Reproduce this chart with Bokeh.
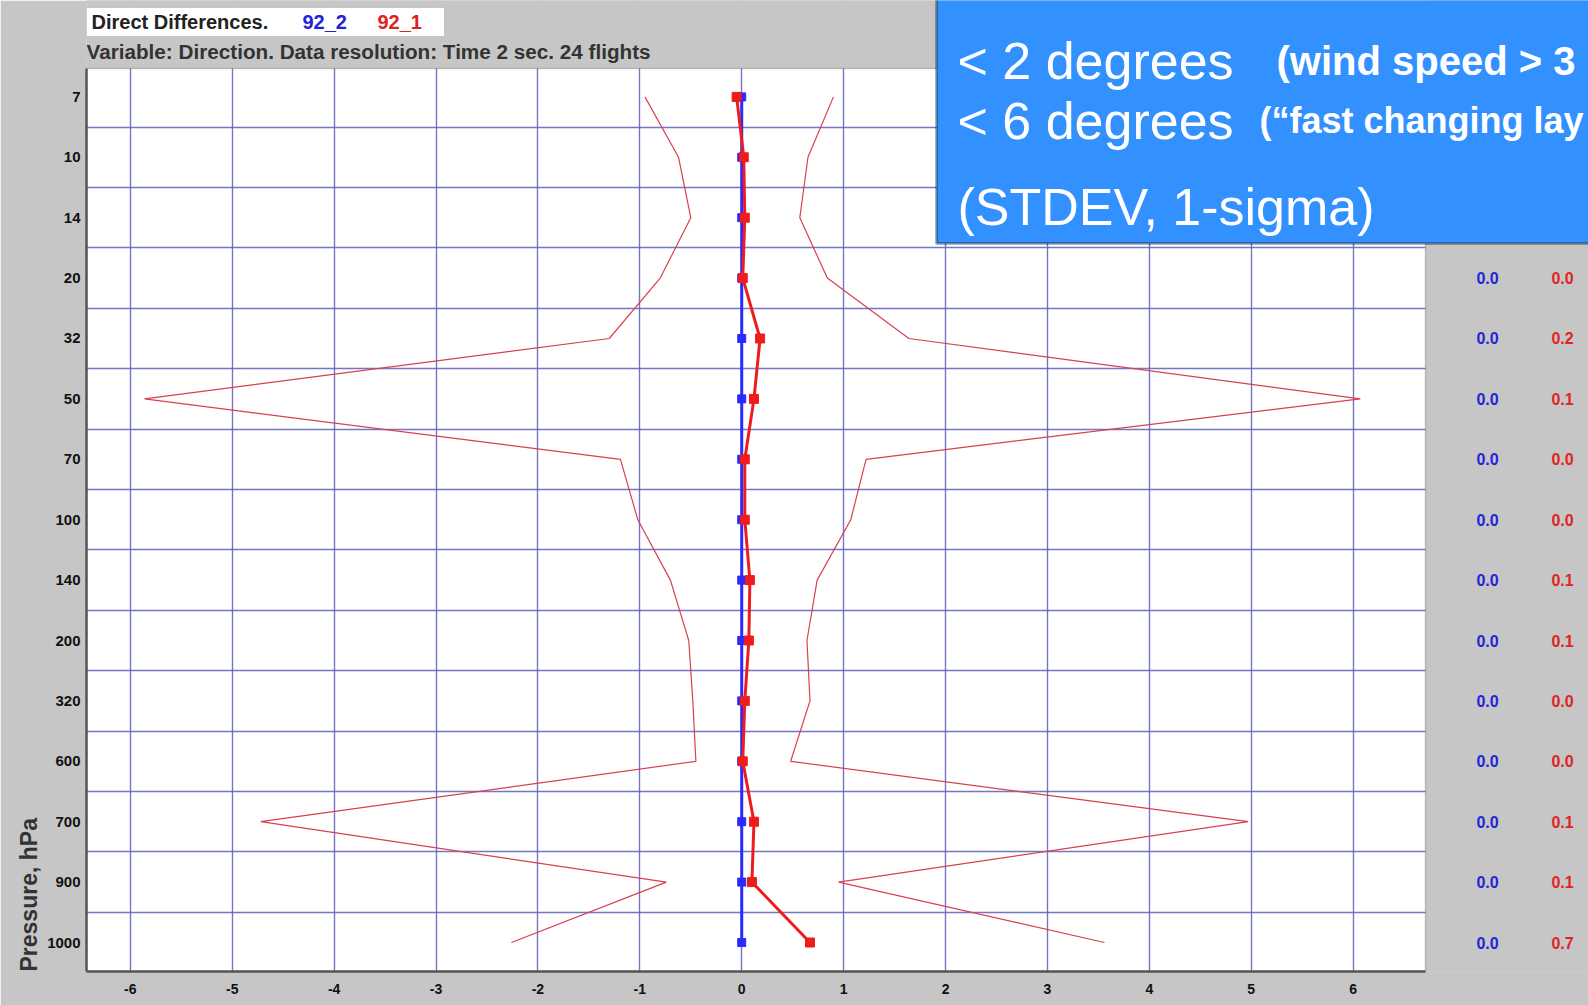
from bokeh.plotting import figure
from bokeh.models import Range1d, FixedTicker, Label, LabelSet, BoxAnnotation, ColumnDataSource, Title
from bokeh.core.properties import value
from bokeh.embed import file_html
from bokeh.resources import INLINE

# ---------------- data ----------------
levels = ["7", "10", "14", "20", "32", "50", "70", "100", "140", "200", "320", "600", "700", "900", "1000"]
level_pos = [0, 1, 2, 3, 4, 5, 6, 7, 8, 9, 10, 11, 12, 13, 14]

mean_92_2 = [0.0, 0.0, 0.0, 0.0, 0.0, 0.0, 0.0, 0.0, 0.0, 0.0, 0.0, 0.0, 0.0, 0.0, 0.0]
mean_92_1 = [-0.05, 0.02, 0.03, 0.01, 0.18, 0.12, 0.03, 0.03, 0.08, 0.07, 0.03, 0.01, 0.12, 0.10, 0.67]
lower_92_1 = [-0.95, -0.62, -0.50, -0.80, -1.30, -5.86, -1.19, -1.02, -0.70, -0.52, -0.48, -0.45, -4.72, -0.74, -2.26]
upper_92_1 = [0.90, 0.65, 0.57, 0.84, 1.64, 6.07, 1.22, 1.07, 0.74, 0.64, 0.67, 0.48, 4.97, 0.95, 3.56]

col_92_2 = ["0.0", "0.0", "0.0", "0.0", "0.0", "0.0", "0.0", "0.0", "0.0", "0.0", "0.0", "0.0", "0.0", "0.0", "0.0"]
col_92_1 = ["0.0", "0.0", "0.0", "0.0", "0.2", "0.1", "0.0", "0.0", "0.1", "0.1", "0.0", "0.0", "0.1", "0.1", "0.7"]

x_ticks = [-6, -5, -4, -3, -2, -1, 0, 1, 2, 3, 4, 5, 6]
x_tick_labels = ["-6", "-5", "-4", "-3", "-2", "-1", "0", "1", "2", "3", "4", "5", "6"]

# ---------------- layout ----------------
W, H = 1588, 1005
PL, PR, PT, PB = 86, 1425, 68, 971          # white plot area (pixels)
XA, XB = -6.43, 6.71                        # x values at PL / PR
YA, YB = -0.47, 14.48                       # level index at PT / PB
KX = (XB - XA) / (PR - PL)
KY = (YB - YA) / (PB - PT)


def sx(px):
    return XA + (px - PL) * KX


def sy(py):
    return YA + (py - PT) * KY


GRAY = "#c6c6c6"
GRID = "#6666c0"
FONT = "Liberation Sans"

# the frame covers the plot area plus the top strip and the right column
p = figure(width=W, height=H, output_backend="svg", toolbar_location=None,
           x_range=Range1d(XA, sx(W)), y_range=Range1d(YB, sy(0)),
           min_border_left=PL, min_border_right=0, min_border_top=0,
           min_border_bottom=H - PB)
p.border_fill_color = GRAY
p.background_fill_color = GRAY
p.outline_line_color = None

# white plot area
p.add_layout(BoxAnnotation(left=XA, right=XB, top=YA, bottom=YB, fill_color="white",
                           fill_alpha=1, line_color=None, level="image"))

# axes
p.xaxis.ticker = FixedTicker(ticks=x_ticks)
p.xaxis.major_label_overrides = {t: s for t, s in zip(x_ticks, x_tick_labels)}
p.xaxis.bounds = (XA, XB)
p.yaxis.ticker = FixedTicker(ticks=level_pos)
p.yaxis.major_label_overrides = {i: lab for i, lab in zip(level_pos, levels)}
p.yaxis.bounds = (YA, YB)
for ax in (p.xaxis[0], p.yaxis[0]):
    ax.axis_line_color = "#555555"
    ax.axis_line_width = 2.5
    ax.major_tick_line_color = None
    ax.minor_tick_line_color = None
    ax.major_label_text_font = FONT
    ax.major_label_text_font_style = "bold"
    ax.major_label_text_font_size = "15px"
    ax.major_label_text_color = "#111111"
p.yaxis.major_label_standoff = 0
p.xaxis.major_label_standoff = 6
p.xaxis.major_label_text_font_size = "14px"

# y axis title, placed low on the left side
p.add_layout(Title(text="Pressure, hPa", align="left", text_font=FONT, text_font_style="bold",
                   text_font_size="23px", text_color="#333333", standoff=6, offset=0), "left")

# grids
p.xgrid.ticker = FixedTicker(ticks=x_ticks)
p.ygrid.ticker = FixedTicker(ticks=[i + 0.5 for i in level_pos[:-1]])
for g in (p.xgrid[0], p.ygrid[0]):
    g.grid_line_color = GRID
    g.grid_line_width = 1.4
    g.grid_line_alpha = 0.9

# gray strips above and right of the plot area (cover the grid lines there)
p.add_layout(BoxAnnotation(left=sx(PL - 5), right=sx(W + 5), top=sy(-5), bottom=sy(PT),
                           fill_color=GRAY, fill_alpha=1, line_color=None, level="glyph"))
p.add_layout(BoxAnnotation(left=sx(PR), right=sx(W + 5), top=sy(-5), bottom=sy(PB + 5),
                           fill_color=GRAY, fill_alpha=1, line_color=None, level="glyph"))
p.add_layout(BoxAnnotation(left=XA, right=XB, top=YA, bottom=YB,
                           fill_alpha=0, line_color="#6a6a6a", line_width=1.5, level="glyph"))

# envelopes
p.line(lower_92_1, level_pos, line_color="#d8404f", line_width=1.2)
p.line(upper_92_1, level_pos, line_color="#d8404f", line_width=1.2)

# mean lines
p.line(mean_92_2, level_pos, line_color="#2a2aff", line_width=3)
p.scatter(mean_92_2, level_pos, marker="square", size=8, fill_color="#2a2aff", line_color="#2a2aff")
p.line(mean_92_1, level_pos, line_color="#ee1c1c", line_width=3)
p.scatter(mean_92_1, level_pos, marker="square", size=9, fill_color="#ee1c1c", line_color="#ee1c1c")

# right column values
src = ColumnDataSource(dict(y=level_pos, b=col_92_2, r=col_92_1))
p.add_layout(LabelSet(x=sx(1487), y="y", text="b", source=src, text_align="center",
                      text_baseline="middle", text_font=value(FONT), text_font_style="bold",
                      text_font_size="16px", text_color="#2424d8"))
p.add_layout(LabelSet(x=sx(1562), y="y", text="r", source=src, text_align="center",
                      text_baseline="middle", text_font=value(FONT), text_font_style="bold",
                      text_font_size="16px", text_color="#e02424"))

# header
p.add_layout(BoxAnnotation(left=sx(86), right=sx(444), top=sy(7), bottom=sy(36),
                           fill_color="white", fill_alpha=1, line_color="#808080", line_width=1))
hdr = [("Direct Differences.", 91, "#222222"), ("92_2", 302, "#2222dd"), ("92_1", 377, "#dd2222")]
for txt, px, col in hdr:
    p.add_layout(Label(x=sx(px), y=sy(21), text=txt, text_baseline="alphabetic",
                       text_font=FONT, text_font_style="bold", text_font_size="20px", text_color=col))
p.add_layout(Label(x=sx(86), y=sy(51), text="Variable: Direction. Data resolution: Time 2 sec. 24 flights",
                   text_baseline="alphabetic", text_font=FONT, text_font_style="bold",
                   text_font_size="20.7px", text_color="#333333"))

# blue note box (the reference shows its right part cut off by the picture edge)
p.add_layout(BoxAnnotation(left=sx(936), right=sx(1700), top=sy(-20), bottom=sy(243),
                           fill_color="#3390ff", fill_alpha=1, line_color="black", line_width=3))
note_rows = [
    ("< 2 degrees", 957, 60, "normal", "52px"),
    ("(wind speed > 3", 1276, 60, "bold", "40px"),
    ("< 6 degrees", 957, 120, "normal", "52px"),
    ("(\u201cfast changing lay", 1259, 120, "bold", "36px"),
    ("(STDEV, 1-sigma)", 957, 206, "normal", "52px"),
]
for txt, px, py, style, size in note_rows:
    p.add_layout(Label(x=sx(px), y=sy(py), text=txt, text_baseline="alphabetic",
                       text_font=FONT, text_font_style=style, text_font_size=size,
                       text_color="white"))

open("out.html", "w").write(file_html(p, INLINE))
